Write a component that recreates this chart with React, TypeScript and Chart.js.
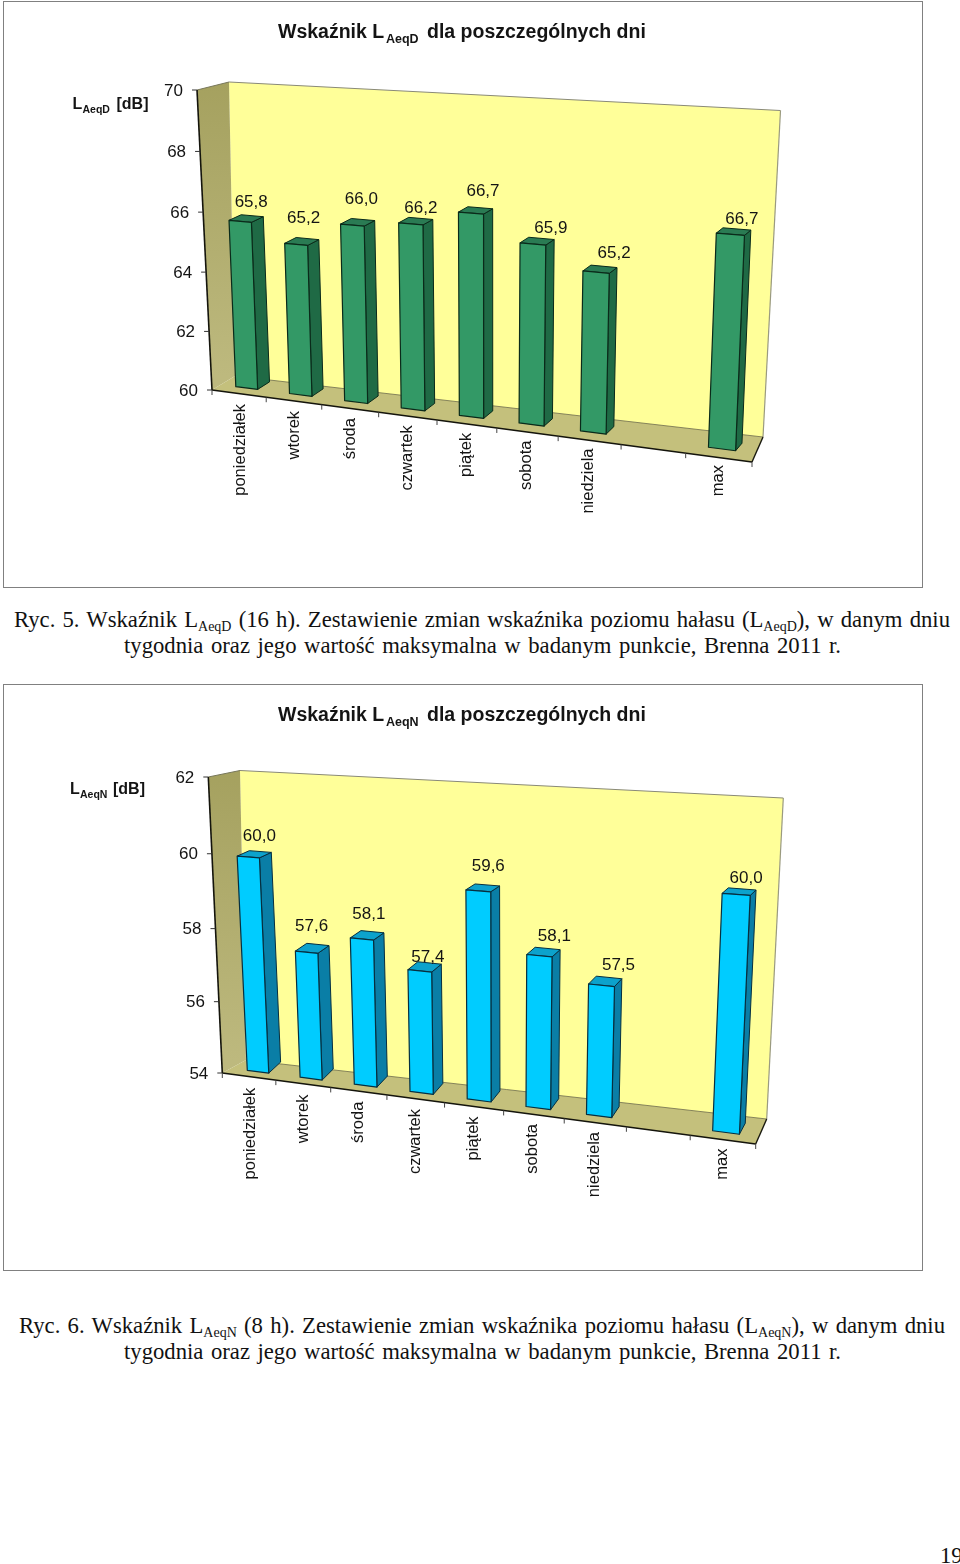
import React, { useEffect, useRef } from "react";
import { Chart, registerables } from "chart.js";

Chart.register(...registerables);

const categories = ["poniedziałek", "wtorek", "środa", "czwartek", "piątek", "sobota", "niedziela", "", "max"];
const valuesD = [65.8, 65.2, 66.0, 66.2, 66.7, 65.9, 65.2, null, 66.7];
const valuesN = [60.0, 57.6, 58.1, 57.4, 59.6, 58.1, 57.5, null, 60.0];

type P = [number, number];

const projective = (t: number, k: number) => t / (t + (1 - t) * k);
const lerp = (a: number, b: number, t: number) => a + (b - a) * t;
const lerpP = (a: P, b: P, t: number): P => [lerp(a[0], b[0], t), lerp(a[1], b[1], t)];

function homography(p0: P, p1: P, p2: P, p3: P) {
  const [x0, y0] = p0, [x1, y1] = p1, [x2, y2] = p2, [x3, y3] = p3;
  const dx1 = x1 - x2, dx2 = x3 - x2, sx = x0 - x1 + x2 - x3;
  const dy1 = y1 - y2, dy2 = y3 - y2, sy = y0 - y1 + y2 - y3;
  const den = dx1 * dy2 - dx2 * dy1;
  const g = (sx * dy2 - dx2 * sy) / den;
  const h = (dx1 * sy - sx * dy1) / den;
  const a = x1 - x0 + g * x1, b = x3 - x0 + h * x3;
  const d = y1 - y0 + g * y1, e = y3 - y0 + h * y3;
  return (u: number, v: number): P => {
    const w = g * u + h * v + 1;
    return [(a * u + b * v + x0) / w, (d * u + e * v + y0) / w];
  };
}

const layoutD = {
  top: 0,
  barPlane: { bl: [246.7, 388] as P, br: [722, 449] as P, tr: [734.8, 119.4] as P, tl: [235.1, 91] as P },
  vK: 1.03,
  xK: 1.12,
  depthX: [12, 6.5],
  depthY: [-7.5, -4.2],
  walls: {
    ftl: [197, 90] as P, btl: [229, 82] as P, btr: [780.5, 110.5] as P, bbr: [763, 437] as P,
    bbl: [235, 376] as P, fbl: [212, 390] as P, fbr: [752, 462] as P,
  },
  labelOffsets: [[11, -19.5], [7.5, -26], [9, -26], [10, -16], [12, -22], [18, -16], [18, -19], [0, 0], [11.5, -14.5]],
  catDx: [-6.7, -4],
  title: { y: 38, subY: 43 },
  axisTitle: { x: 72.5, y: 109, subX: 82.5, subY: 113, unitX: 116.5 },
  sub: "AeqD",
  colors: { front: "#339966", side: "#1f6a45", top: "#2a7b53", line: "#0a2a1a" },
};

const layoutN = {
  top: 683,
  barPlane: { bl: [258, 1071.7] as P, br: [726, 1132.5] as P, tr: [739.9, 805.9] as P, tl: [244.7, 777.7] as P },
  vK: 1.05,
  xK: 1.12,
  depthX: [12, 6],
  depthY: [-11, -3.5],
  walls: {
    ftl: [208.3, 777] as P, btl: [240, 770.5] as P, btr: [783.3, 798] as P, bbr: [766.7, 1119] as P,
    bbl: [246, 1060] as P, fbl: [222.3, 1073] as P, fbr: [755.7, 1144] as P,
  },
  labelOffsets: [[11, -21], [5, -26], [7, -25], [8, -14], [10, -24], [15, -19], [17, -20], [0, 0], [10, -16]],
  catDx: [-8, -4],
  title: { y: 721, subY: 726 },
  axisTitle: { x: 70, y: 794, subX: 80, subY: 798, unitX: 113 },
  sub: "AeqN",
  colors: { front: "#00ccff", side: "#0a7ea6", top: "#0ca2cc", line: "#062f40" },
};

const INK = "#141414";

function poly(ctx: CanvasRenderingContext2D, pts: P[], fill: string | CanvasGradient | null, stroke?: string, lw = 1) {
  ctx.beginPath();
  pts.forEach((p, i) => (i ? ctx.lineTo(p[0], p[1]) : ctx.moveTo(p[0], p[1])));
  ctx.closePath();
  if (fill) { ctx.fillStyle = fill; ctx.fill(); }
  if (stroke) { ctx.strokeStyle = stroke; ctx.lineWidth = lw; ctx.stroke(); }
}

function seg(ctx: CanvasRenderingContext2D, a: P, b: P, color: string, lw: number) {
  ctx.beginPath();
  ctx.moveTo(a[0], a[1]);
  ctx.lineTo(b[0], b[1]);
  ctx.strokeStyle = color;
  ctx.lineWidth = lw;
  ctx.stroke();
}

function makePlugin(L: typeof layoutD) {
  const H = homography(L.barPlane.bl, L.barPlane.br, L.barPlane.tr, L.barPlane.tl);
  const toPlane = (chart: any) => {
    const x = chart.scales.x, y = chart.scales.y;
    const x0 = x.getPixelForValue(0), x8 = x.getPixelForValue(categories.length - 1);
    const y0 = y.getPixelForValue(y.min), y1 = y.getPixelForValue(y.max);
    return {
      u: (px: number) => (px - x0) / (x8 - x0),
      v: (py: number) => projective(Math.max(0, (y0 - py) / (y0 - y1)), L.vK),
    };
  };
  const off = (u: number, v: number): P => [lerp(L.depthX[0], L.depthX[1], u), lerp(L.depthY[0], L.depthY[1], v)];
  const add = (p: P, d: P): P => [p[0] + d[0], p[1] + d[1]];

  return {
    id: "perspective3d",
    beforeDatasetsDraw(chart: any) {
      const ctx: CanvasRenderingContext2D = chart.ctx;
      const W = L.walls;
      const x = chart.scales.x, y = chart.scales.y;
      ctx.save();
      ctx.translate(0, -L.top);
      ctx.lineJoin = "round";

      const wallGrad = ctx.createLinearGradient(0, W.btl[1], 0, W.bbl[1]);
      wallGrad.addColorStop(0, "#a5a15f");
      wallGrad.addColorStop(1, "#bdb97e");
      poly(ctx, [W.btl, W.btr, W.bbr, W.bbl], "#ffff99");
      poly(ctx, [W.ftl, W.btl, W.bbl, W.fbl], wallGrad);
      poly(ctx, [W.fbl, W.bbl, W.bbr, W.fbr], "#c4c07c");
      seg(ctx, W.btl, W.btr, "#8a8a78", 1.2);
      seg(ctx, W.btr, W.bbr, "#9a9a80", 1.2);
      seg(ctx, W.ftl, W.btl, "#77775a", 1);
      seg(ctx, W.bbl, W.bbr, "#6f6c45", 0.8);
      seg(ctx, W.bbr, W.fbr, "#1a1a10", 1.4);
      seg(ctx, W.ftl, W.fbl, "#14140c", 1.6);
      seg(ctx, W.fbl, W.fbr, "#14140c", 1.6);

      ctx.font = "17px 'Liberation Sans'";
      ctx.textAlign = "right";
      ctx.textBaseline = "middle";
      y.ticks.forEach((t: any) => {
        const s = projective((t.value - y.min) / (y.max - y.min), L.vK);
        const p = lerpP(W.fbl, W.ftl, s);
        seg(ctx, [p[0] - 5, p[1]], p, "#333", 1);
        ctx.fillStyle = INK;
        ctx.fillText(String(t.label), p[0] - 14, p[1] + 1);
      });

      // category axis ticks
      for (let i = 0; i <= categories.length; i++) {
        const px = x.getPixelForValue(i - 0.5);
        const s = projective((px - x.left) / (x.right - x.left), L.xK);
        const p = lerpP(W.fbl, W.fbr, s);
        seg(ctx, p, [p[0], p[1] + 5], "#444", 1);
      }

      // category labels
      const pl = toPlane(chart);
      x.ticks.forEach((t: any, i: number) => {
        const label = String(t.label ?? "");
        if (!label) return;
        const u = pl.u(x.getPixelForTick(i));
        const b = H(u, 0);
        ctx.save();
        ctx.translate(b[0] + lerp(L.catDx[0], L.catDx[1], u), b[1] + 16);
        ctx.rotate(-Math.PI / 2);
        ctx.textAlign = "right";
        ctx.textBaseline = "middle";
        ctx.fillStyle = INK;
        ctx.font = "16.5px 'Liberation Sans'";
        ctx.fillText(label, 0, 0);
        ctx.restore();
      });

      // titles
      ctx.textAlign = "left";
      ctx.textBaseline = "alphabetic";
      ctx.fillStyle = INK;
      ctx.font = "bold 19.5px 'Liberation Sans'";
      ctx.fillText("Wskaźnik L", 278, L.title.y);
      ctx.fillText("dla poszczególnych dni", 427, L.title.y);
      ctx.font = "bold 12.5px 'Liberation Sans'";
      ctx.fillText(L.sub, 386, L.title.subY);
      const A = L.axisTitle;
      ctx.font = "bold 16px 'Liberation Sans'";
      ctx.fillText("L", A.x, A.y);
      ctx.fillText("[dB]", A.unitX, A.y);
      ctx.font = "bold 10.5px 'Liberation Sans'";
      ctx.fillText(L.sub, A.subX, A.subY);
      ctx.restore();
    },
    beforeDatasetDraw(chart: any, args: any) {
      const ctx: CanvasRenderingContext2D = chart.ctx;
      const meta = chart.getDatasetMeta(args.index);
      const data = chart.data.datasets[args.index].data;
      const pl = toPlane(chart);
      ctx.save();
      ctx.translate(0, -L.top);
      ctx.lineJoin = "round";
      meta.data.forEach((el: any, i: number) => {
        if (data[i] == null) return;
        const uL = pl.u(el.x - el.width / 2), uR = pl.u(el.x + el.width / 2);
        const vT = pl.v(el.y), vB = pl.v(el.base);
        const fbl = H(uL, vB), fbr = H(uR, vB), ftr = H(uR, vT), ftl = H(uL, vT);
        const c = L.colors;
        poly(ctx, [fbr, ftr, add(ftr, off(uR, vT)), add(fbr, off(uR, vB))], c.side, c.line, 1);
        poly(ctx, [ftl, ftr, add(ftr, off(uR, vT)), add(ftl, off(uL, vT))], c.top, c.line, 1);
        poly(ctx, [fbl, fbr, ftr, ftl], c.front, c.line, 1.2);
      });
      // value labels
      ctx.font = "17px 'Liberation Sans'";
      ctx.textAlign = "center";
      ctx.textBaseline = "middle";
      ctx.fillStyle = INK;
      meta.data.forEach((el: any, i: number) => {
        if (data[i] == null) return;
        const top = H(pl.u(el.x), pl.v(el.y));
        const o = L.labelOffsets[i];
        ctx.fillText(data[i].toFixed(1).replace(".", ","), top[0] + o[0], top[1] + o[1]);
      });
      ctx.restore();
      return false;
    },
  };
}

function Bars3D({ layout, values, min, max }: { layout: typeof layoutD; values: (number | null)[]; min: number; max: number }) {
  const ref = useRef<HTMLCanvasElement | null>(null);
  useEffect(() => {
    const chart = new Chart(ref.current as HTMLCanvasElement, {
      type: "bar",
      data: {
        labels: categories,
        datasets: [{
          data: values as any,
          backgroundColor: layout.colors.front,
          borderColor: layout.colors.line,
          barPercentage: 0.41,
          categoryPercentage: 1,
        }],
      },
      options: {
        animation: false,
        responsive: false,
        devicePixelRatio: 1,
        layout: { padding: { left: 190, right: 180, top: 80, bottom: 110 } },
        plugins: { legend: { display: false }, title: { display: false }, tooltip: { enabled: false } },
        scales: {
          x: { grid: { display: false }, border: { display: false }, ticks: { display: false, autoSkip: false } },
          y: { min, max, grid: { display: false }, border: { display: false }, ticks: { display: false, stepSize: 2 } },
        },
      },
      plugins: [makePlugin(layout) as any],
    });
    return () => chart.destroy();
  }, []);
  return (
    <canvas
      ref={ref}
      width={960}
      height={590}
      style={{ position: "absolute", left: 0, top: layout.top, width: 960, height: 590, display: "block" }}
    />
  );
}

const serif = "'Liberation Serif', serif";
const line: React.CSSProperties = { position: "absolute", fontFamily: serif, fontSize: 22.7, lineHeight: "24px", color: "#111", whiteSpace: "nowrap" };
const subS: React.CSSProperties = { fontSize: 14, lineHeight: 0, verticalAlign: -4 };
const frame = (top: number): React.CSSProperties => ({ position: "absolute", left: 3, top, width: 918, height: 585, border: "1px solid #808080", background: "#fff" });

function Caption({ top, left, width, n, sub, hours }: { top: number; left: number; width: number; n: number; sub: string; hours: number }) {
  return (
    <>
      <div style={{ ...line, top, left, width, whiteSpace: "normal", textAlign: "justify", textAlignLast: "justify" }}>
        Ryc. {n}. Wskaźnik L<span style={subS}>{sub}</span> ({hours} h). Zestawienie zmian wskaźnika poziomu hałasu (L<span style={subS}>{sub}</span>), w danym dniu
      </div>
      <div style={{ ...line, top: top + 26, left: 124, width: 717, textAlign: "justify", textAlignLast: "justify", whiteSpace: "normal" }}>
        tygodnia oraz jego wartość maksymalna w badanym punkcie, Brenna 2011 r.
      </div>
    </>
  );
}

export default function App() {
  return (
    <div style={{ position: "absolute", left: 0, top: 0, width: 960, height: 1564, overflow: "hidden", background: "#fff" }}>
      <div style={frame(1)} />
      <div style={frame(684)} />
      <Bars3D layout={layoutD} values={valuesD} min={60} max={70} />
      <Bars3D layout={layoutN} values={valuesN} min={54} max={62} />
      <Caption top={608} left={14} width={936} n={5} sub="AeqD" hours={16} />
      <Caption top={1314} left={19} width={926} n={6} sub="AeqN" hours={8} />
      <div style={{ ...line, top: 1544, left: 940 }}>19</div>
    </div>
  );
}
